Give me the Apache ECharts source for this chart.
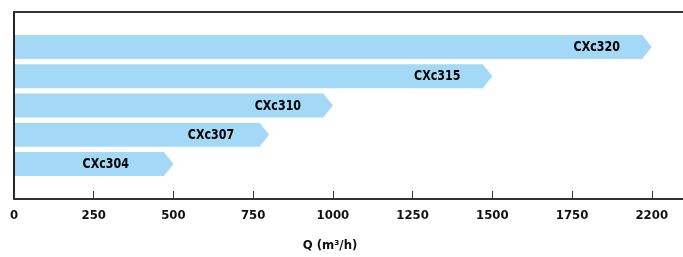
<!DOCTYPE html>
<html><head><meta charset="utf-8">
<script src="https://cdn.jsdelivr.net/npm/echarts@6/dist/echarts.min.js"></script>
<style>html,body{margin:0;padding:0;background:#fff}#c{width:683px;height:257px}</style>
</head><body><div id="c"></div>
<script>
// ---- data ----
const categories = ['CXc320', 'CXc315', 'CXc310', 'CXc307', 'CXc304'];
const flowMax = [2000, 1500, 1000, 800, 500];
const tickValues = [0, 250, 500, 750, 1000, 1250, 1500, 1750, 2000];
const tickLabels = ['0', '250', '500', '750', '1000', '1250', '1500', '1750', '2200'];
const axisName = 'Q (m³/h)';

// ---- style ----
const FONT = "'Liberation Sans Narrow','DejaVu Sans Condensed','DejaVu Sans',sans-serif";
const X_MAX = 2098;
const BAR_COLOR = '#a3d9f6';

function renderItem(params, api) {
  const v = api.value(0), c = api.value(1);
  const end = api.coord([v, c]);
  const start = api.coord([0, c]);
  const band = api.size([0, 1])[1];
  const h = band * 0.815;
  const tip = 9.5;
  const cy = end[1];
  const x0 = start[0] + 1;
  return {
    type: 'group',
    children: [
      { type: 'polygon',
        shape: { points: [[x0, cy - h / 2], [end[0] - tip, cy - h / 2], [end[0], cy], [end[0] - tip, cy + h / 2], [x0, cy + h / 2]] },
        style: { fill: BAR_COLOR } },
      { type: 'text',
        x: end[0] - 55 - Math.max(0, 300 - end[0]) * 0.1, y: cy + 0.5, scaleX: 0.88, scaleY: 1,
        style: { text: categories[params.dataIndex], x: 0, y: 0, align: 'center', verticalAlign: 'middle',
                 font: 'bold 14px ' + FONT, fill: '#000' } }
    ]
  };
}

const chart = echarts.init(document.getElementById('c'), null, { renderer: 'canvas' });
chart.setOption({
  animation: false,
  backgroundColor: '#fff',
  grid: [
    { left: 14, right: 0, top: 12, bottom: 57 },
    { left: 14, right: 0, top: 32.4, bottom: 78.4 }
  ],
  xAxis: [
    { gridIndex: 0, type: 'value', min: 0, max: X_MAX, position: 'bottom',
      axisLine: { show: true, onZero: false, lineStyle: { color: '#333', width: 2 } },
      axisTick: { show: true, inside: true, length: 8, customValues: tickValues, lineStyle: { color: '#333', width: 1 } },
      axisLabel: { show: true, margin: 10, customValues: tickValues,
        formatter: (val) => { const i = tickValues.indexOf(val); return i >= 0 ? tickLabels[i] : ''; },
        color: '#111', fontFamily: FONT, fontSize: 13, fontWeight: 'bold' },
      splitLine: { show: false },
      name: axisName, nameLocation: 'middle', nameGap: 40,
      nameTextStyle: { color: '#111', fontFamily: FONT, fontSize: 13, fontWeight: 'bold', padding: [0, 37, 0, 0] }
    },
    { gridIndex: 0, type: 'value', min: 0, max: X_MAX, position: 'top',
      axisLine: { show: true, onZero: false, lineStyle: { color: '#333', width: 2 } },
      axisTick: { show: false }, axisLabel: { show: false }, splitLine: { show: false } },
    { gridIndex: 1, type: 'value', min: 0, max: X_MAX, show: false, splitLine: { show: false } }
  ],
  yAxis: [
    { gridIndex: 0, type: 'value', min: 0, max: 1,
      axisLine: { show: true, onZero: false, lineStyle: { color: '#222', width: 2 } },
      axisTick: { show: false }, axisLabel: { show: false }, splitLine: { show: false } },
    { gridIndex: 1, type: 'category', inverse: true, data: categories, show: false }
  ],
  series: [{
    type: 'custom',
    xAxisIndex: 2, yAxisIndex: 1,
    renderItem: renderItem,
    encode: { x: 0, y: 1 },
    data: categories.map((c, i) => [flowMax[i], c])
  }]
});
</script>
</body></html>
